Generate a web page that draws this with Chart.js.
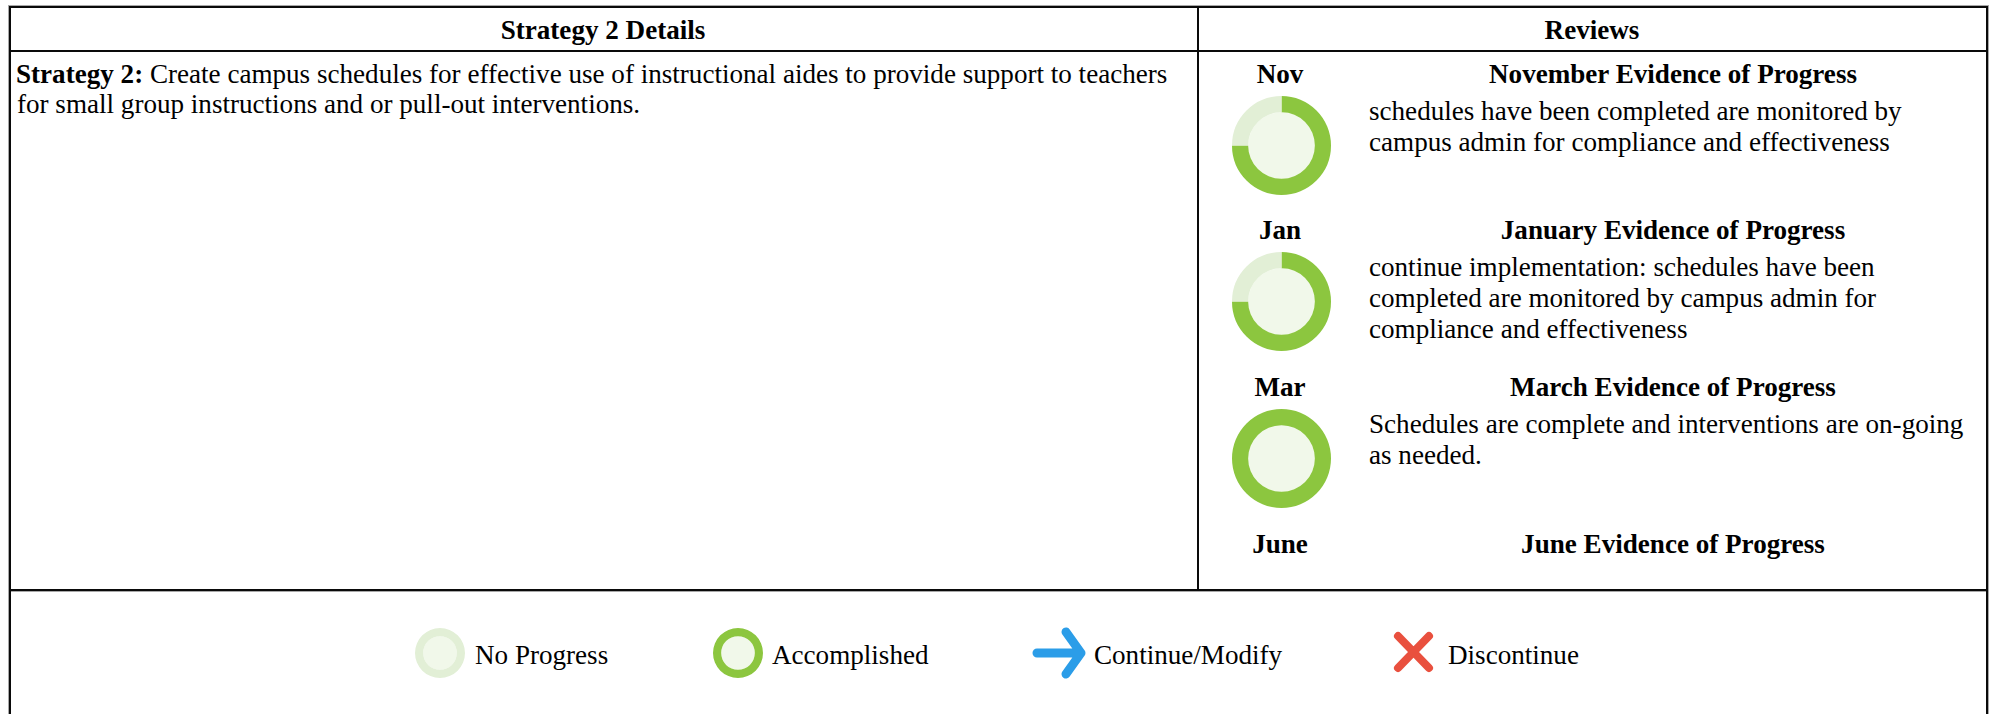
<!DOCTYPE html>
<html>
<head>
<meta charset="utf-8">
<script src="https://cdn.jsdelivr.net/npm/chart.js@4"></script>
<style>
  html, body { margin: 0; padding: 0; background: #fff; }
  body { width: 1995px; height: 714px; position: relative; overflow: hidden; font-family: "Liberation Serif", serif; color: #000; }
  .rule { position: absolute; background: #0a0a0a; }
  .edge { position: absolute; background: #a8a8a8; }
  .txt { position: absolute; font-size: 27.1px; line-height: 32px; white-space: nowrap; }
  .mid { transform: translateX(-50%); }
  .b { font-weight: bold; }
  canvas { position: absolute; }
  svg { position: absolute; }
</style>
</head>
<body>
<div class="edge" style="left:8px;top:5px;width:1981px;height:1px"></div>
<div class="edge" style="left:8px;top:5px;width:1px;height:709px"></div>
<div class="edge" style="left:1988px;top:5px;width:1px;height:709px"></div>
<div class="edge" style="left:9px;top:591px;width:1979px;height:1px"></div>
<div class="rule" style="left:9px;top:6px;width:1979px;height:2px"></div>
<div class="rule" style="left:9px;top:50px;width:1979px;height:2px"></div>
<div class="rule" style="left:9px;top:589px;width:1979px;height:2px"></div>
<div class="rule" style="left:9px;top:6px;width:2px;height:708px"></div>
<div class="rule" style="left:1986px;top:6px;width:2px;height:708px"></div>
<div class="rule" style="left:1197px;top:6px;width:2px;height:584px"></div>

<div class="txt mid b" style="left:603px;top:14px">Strategy 2 Details</div>
<div class="txt mid b" style="left:1592px;top:14px">Reviews</div>
<div class="txt" style="left:16px;top:58px"><b>Strategy 2:</b> Create campus schedules for effective use of instructional aides to provide support to teachers</div>
<div class="txt" style="left:17px;top:88px">for small group instructions and or pull-out interventions.</div>

<div id="reviews"></div>

<svg style="left:1030px;top:625px" width="58" height="56" viewBox="1030 625 58 56">
  <path d="M1037 653 H1081 M1066 632 L1081 653 L1066 674" fill="none" stroke="#2b9de8" stroke-width="9" stroke-linecap="round" stroke-linejoin="round"/>
</svg>
<svg style="left:1390px;top:628px" width="48" height="48" viewBox="1390 628 48 48">
  <path d="M1398 636 L1429 668 M1429 636 L1398 668" fill="none" stroke="#e9503e" stroke-width="8" stroke-linecap="round"/>
</svg>
<div id="legend"></div>

<script>
var GREEN = '#8cc63f';
var LIGHT = '#e2efd6';
var INNER = '#f1f8ea';

// review rows
var months = ['Nov', 'Jan', 'Mar', 'June'];
var headings = ['November Evidence of Progress', 'January Evidence of Progress', 'March Evidence of Progress', 'June Evidence of Progress'];
var accomplished = [75, 75, 100, null];
var remaining = [25, 25, 0, null];
var notes = [
    ['schedules have been completed are monitored by', 'campus admin for compliance and effectiveness'],
    ['continue implementation: schedules have been', 'completed are monitored by campus admin for', 'compliance and effectiveness'],
    ['Schedules are complete and interventions are on-going', 'as needed.'],
    []
];

// legend
var legendLabels = ['No Progress', 'Accomplished', 'Continue/Modify', 'Discontinue'];

// layout
var rowTop = [58, 214, 371, 528];
var ringTop = [96, 252, 409];
var legendTextX = [475, 772, 1094, 1448];
var legendRingX = [415, 713];

function addText(parent, text, x, y, cls) {
    var d = document.createElement('div');
    d.className = 'txt ' + cls;
    d.style.left = x + 'px';
    d.style.top = y + 'px';
    d.textContent = text;
    parent.appendChild(d);
}

// ring plus a pale disc in the middle, both are datasets of the same doughnut
function drawRing(parent, x, y, size, values, colors) {
    var c = document.createElement('canvas');
    c.width = size;
    c.height = size;
    c.style.left = x + 'px';
    c.style.top = y + 'px';
    c.style.width = size + 'px';
    c.style.height = size + 'px';
    parent.appendChild(c);
    new Chart(c, {
        type: 'doughnut',
        data: {
            datasets: [
                { data: values, backgroundColor: colors, borderWidth: 0, weight: 16 },
                { data: [1], backgroundColor: [INNER], borderWidth: 0, weight: 33 }
            ]
        },
        options: {
            responsive: false,
            animation: false,
            cutout: 0,
            layout: { padding: 0 },
            plugins: { legend: { display: false }, tooltip: { enabled: false } }
        }
    });
}

var rv = document.getElementById('reviews');
months.forEach(function (m, i) {
    addText(rv, m, 1280, rowTop[i], 'mid b');
    addText(rv, headings[i], 1673, rowTop[i], 'mid b');
    notes[i].forEach(function (line, j) {
        addText(rv, line, 1369, rowTop[i] + 37 + j * 31, '');
    });
    if (accomplished[i] !== null) {
        drawRing(rv, 1232, ringTop[i], 99, [accomplished[i], remaining[i]], [GREEN, LIGHT]);
    }
});

var lg = document.getElementById('legend');
legendLabels.forEach(function (t, i) {
    addText(lg, t, legendTextX[i], 639, '');
});
drawRing(lg, legendRingX[0], 628, 50, [100], [LIGHT]);
drawRing(lg, legendRingX[1], 628, 50, [100], [GREEN]);
</script>
</body>
</html>
